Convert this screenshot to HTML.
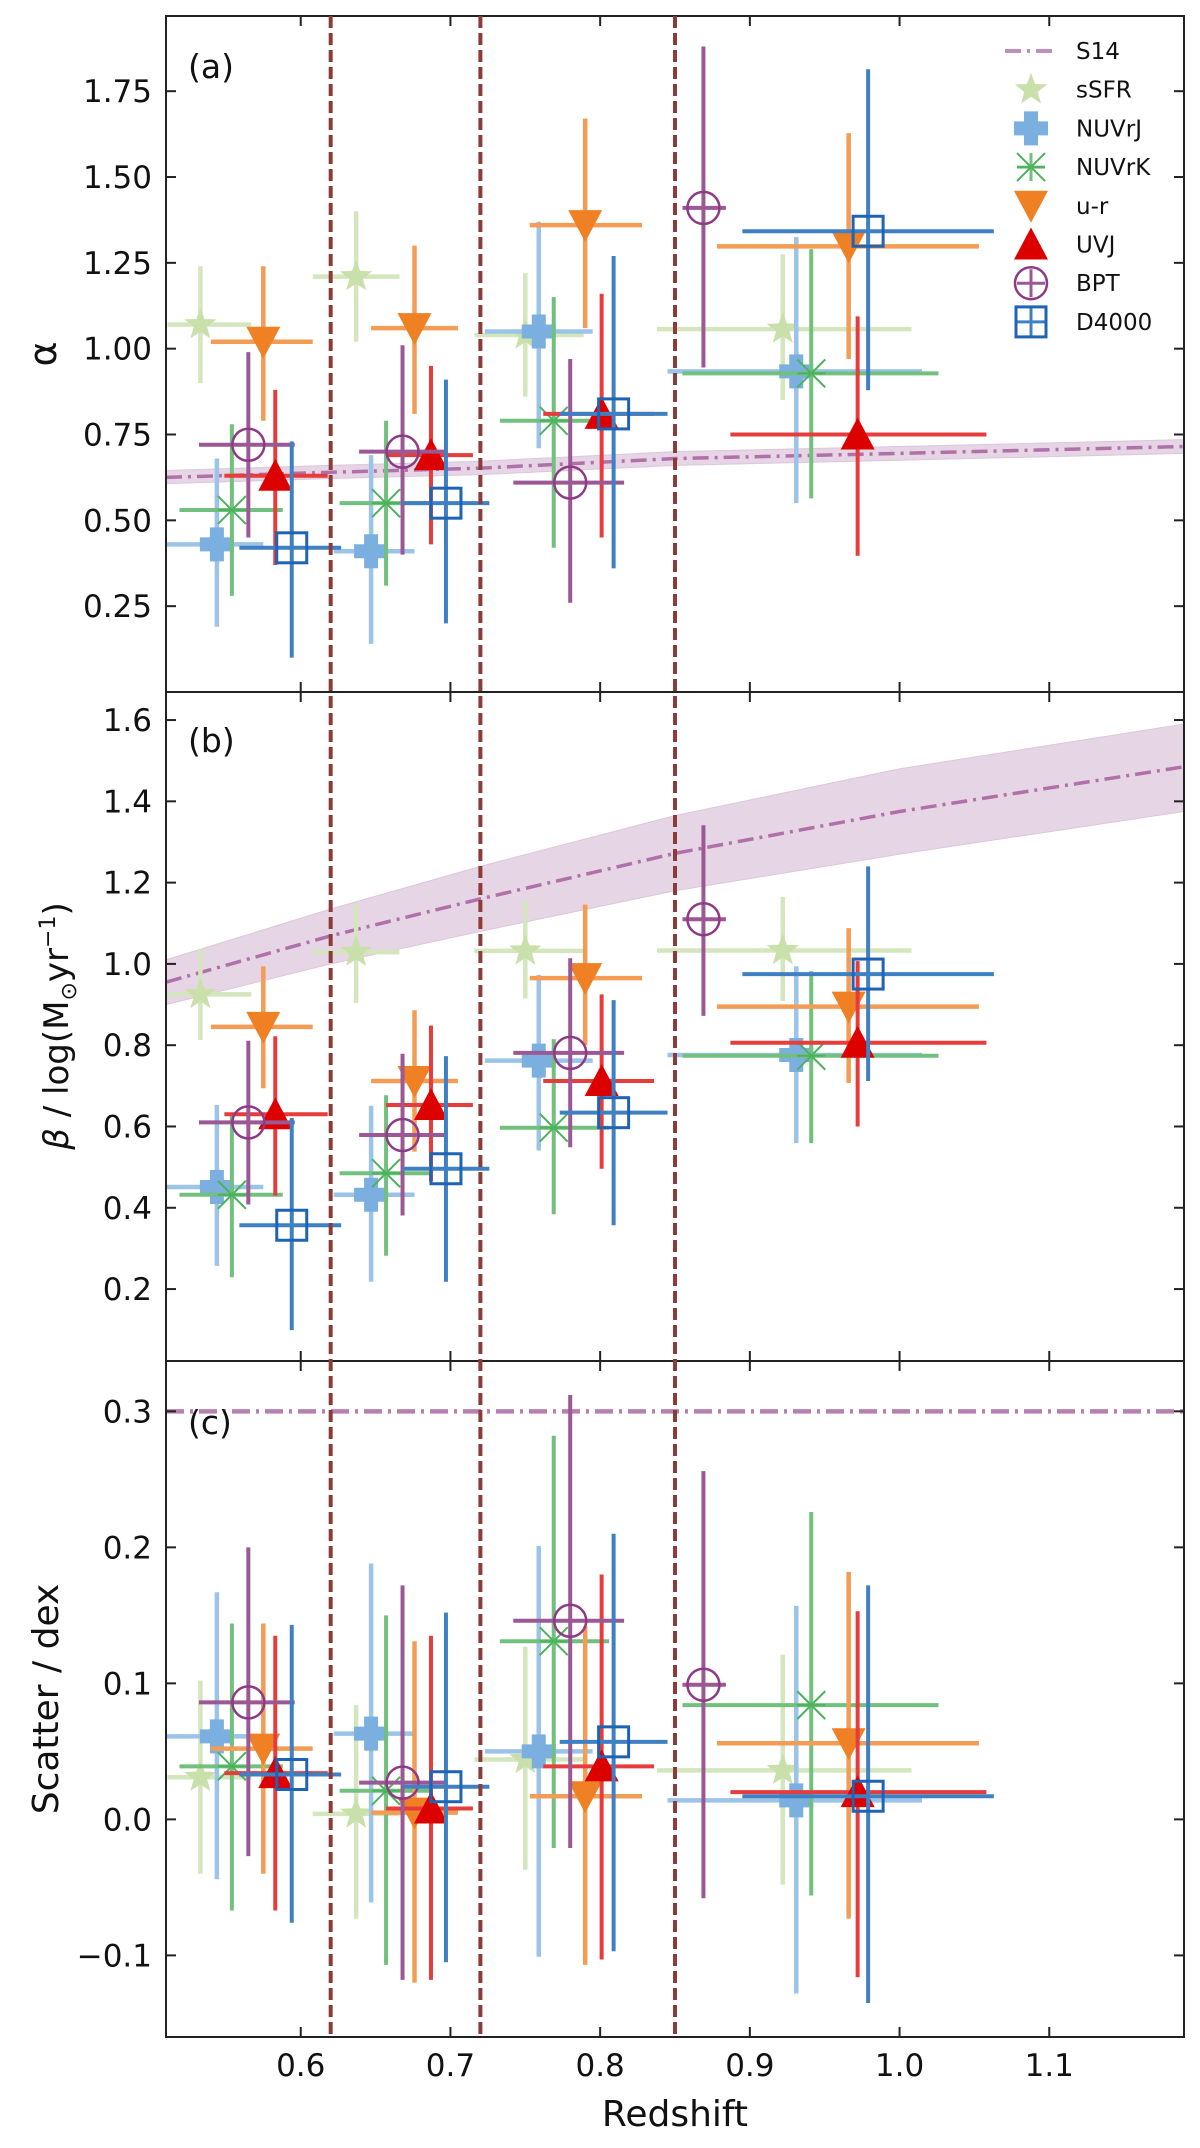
<!DOCTYPE html>
<html><head><meta charset="utf-8">
<style>
html,body{margin:0;padding:0;background:#fff;}
svg{display:block;font-family:"DejaVu Sans","Liberation Sans",sans-serif;}
</style></head>
<body>
<svg id="fig" width="1200" height="2148" viewBox="0 0 1200 2148" xmlns="http://www.w3.org/2000/svg"></svg>
<script>
// ---------- data ----------
const seriesNames = ["sSFR","NUVrJ","NUVrK","u-r","UVJ","BPT","D4000"];
const xSSFR = [0.533,0.637,0.750,0.922], xloSSFR=[0.511,0.608,0.716,0.838], xhiSSFR=[0.567,0.666,0.789,1.008];
const xNUVrJ = [0.544,0.647,0.759,0.931], xloNUVrJ=[0.510,0.622,0.723,0.845], xhiNUVrJ=[0.575,0.676,0.795,1.015];
const xNUVrK = [0.554,0.657,0.769,0.941], xloNUVrK=[0.519,0.626,0.733,0.855], xhiNUVrK=[0.588,0.686,0.806,1.026];
const xUR = [0.575,0.676,0.790,0.966], xloUR=[0.540,0.647,0.753,0.878], xhiUR=[0.608,0.705,0.828,1.053];
const xUVJ = [0.583,0.687,0.801,0.972], xloUVJ=[0.549,0.657,0.762,0.887], xhiUVJ=[0.618,0.715,0.836,1.058];
const xBPT = [0.565,0.668,0.780,0.869], xloBPT=[0.532,0.639,0.742,0.855], xhiBPT=[0.596,0.698,0.816,0.884];
const xD4000 = [0.594,0.697,0.809,0.979], xloD4000=[0.559,0.668,0.773,0.895], xhiD4000=[0.627,0.726,0.845,1.063];

// panel (a) alpha
const aSSFR=[1.07,1.21,1.04,1.057], aSSFRlo=[0.90,1.02,0.86,0.85], aSSFRhi=[1.24,1.40,1.22,1.275];
const aNUVrJ=[0.43,0.41,1.05,0.934], aNUVrJlo=[0.19,0.14,0.71,0.55], aNUVrJhi=[0.68,0.69,1.37,1.325];
const aNUVrK=[0.53,0.55,0.79,0.928], aNUVrKlo=[0.28,0.31,0.42,0.564], aNUVrKhi=[0.78,0.79,1.15,1.29];
const aUR=[1.02,1.06,1.36,1.298], aURlo=[0.79,0.81,1.06,0.97], aURhi=[1.24,1.30,1.67,1.628];
const aUVJ=[0.63,0.69,0.81,0.75], aUVJlo=[0.37,0.43,0.45,0.397], aUVJhi=[0.88,0.95,1.16,1.094];
const aBPT=[0.72,0.70,0.61,1.41], aBPTlo=[0.45,0.40,0.26,0.945], aBPThi=[0.99,1.01,0.97,1.88];
const aD4000=[0.42,0.55,0.81,1.342], aD4000lo=[0.10,0.20,0.36,0.879], aD4000hi=[0.73,0.91,1.27,1.814];

// panel (b) beta
const bSSFR=[0.925,1.029,1.032,1.033], bSSFRlo=[0.813,0.904,0.915,0.909], bSSFRhi=[1.037,1.149,1.156,1.165];
const bNUVrJ=[0.451,0.432,0.762,0.776], bNUVrJlo=[0.257,0.218,0.541,0.559], bNUVrJhi=[0.653,0.651,0.973,0.994];
const bNUVrK=[0.432,0.485,0.597,0.774], bNUVrKlo=[0.229,0.282,0.384,0.559], bNUVrKhi=[0.632,0.677,0.815,0.982];
const bUR=[0.845,0.712,0.965,0.895], bURlo=[0.694,0.538,0.80,0.707], bURhi=[0.994,0.886,1.146,1.088];
const bUVJ=[0.63,0.653,0.712,0.806], bUVJlo=[0.43,0.465,0.496,0.60], bUVJhi=[0.822,0.848,0.925,1.007];
const bBPT=[0.61,0.579,0.781,1.11], bBPTlo=[0.408,0.381,0.549,0.872], bBPThi=[0.811,0.779,1.014,1.341];
const bD4000=[0.357,0.496,0.634,0.975], bD4000lo=[0.099,0.218,0.357,0.712], bD4000hi=[0.621,0.773,0.911,1.24];

// panel (c) scatter
const cSSFR=[0.031,0.004,0.044,0.036], cSSFRlo=[-0.04,-0.073,-0.037,-0.048], cSSFRhi=[0.102,0.084,0.127,0.121];
const cNUVrJ=[0.061,0.063,0.05,0.014], cNUVrJlo=[-0.044,-0.061,-0.101,-0.128], cNUVrJhi=[0.167,0.188,0.201,0.157];
const cNUVrK=[0.039,0.021,0.131,0.084], cNUVrKlo=[-0.067,-0.107,-0.021,-0.056], cNUVrKhi=[0.144,0.15,0.282,0.226];
const cUR=[0.052,0.005,0.017,0.056], cURlo=[-0.04,-0.12,-0.107,-0.073], cURhi=[0.144,0.131,0.142,0.182];
const cUVJ=[0.034,0.008,0.039,0.02], cUVJlo=[-0.067,-0.118,-0.103,-0.116], cUVJhi=[0.135,0.135,0.18,0.153];
const cBPT=[0.086,0.027,0.146,0.099], cBPTlo=[-0.027,-0.118,-0.021,-0.058], cBPThi=[0.2,0.172,0.312,0.256];
const cD4000=[0.033,0.024,0.057,0.017], cD4000lo=[-0.076,-0.105,-0.097,-0.135], cD4000hi=[0.143,0.152,0.21,0.172];

// S14 relation
const s14z=[0.51,0.62,0.72,0.85,1.0,1.19];
const s14Alpha=[0.625,0.64,0.652,0.68,0.695,0.715], s14AlphaLo=[0.607,0.622,0.633,0.66,0.675,0.695], s14AlphaHi=[0.645,0.66,0.672,0.70,0.715,0.735];
const s14Beta=[0.955,1.069,1.16,1.272,1.375,1.485], s14BetaLo=[0.90,1.00,1.08,1.18,1.27,1.375], s14BetaHi=[1.01,1.135,1.24,1.365,1.48,1.59];
const s14Scatter=[0.3,0.3];
const s14ScatterZ=[0.51,1.19];

const binEdges=[0.62,0.72,0.85];
const xTicks=[0.6,0.7,0.8,0.9,1.0,1.1];
const xTickLabels=["0.6","0.7","0.8","0.9","1.0","1.1"];
const aTicks=[0.25,0.5,0.75,1.0,1.25,1.5,1.75], aTickLabels=["0.25","0.50","0.75","1.00","1.25","1.50","1.75"];
const bTicks=[0.2,0.4,0.6,0.8,1.0,1.2,1.4,1.6], bTickLabels=["0.2","0.4","0.6","0.8","1.0","1.2","1.4","1.6"];
const cTicks=[-0.1,0.0,0.1,0.2,0.3], cTickLabels=["\u22120.1","0.0","0.1","0.2","0.3"];

// ---------- drawing ----------
const NS="http://www.w3.org/2000/svg";
const svg=document.getElementById('fig');
function el(tag,attrs,parent){const e=document.createElementNS(NS,tag);for(const k in attrs)e.setAttribute(k,attrs[k]);(parent||svg).appendChild(e);return e;}
const L=166,R=1184;
const XMIN=0.51,XMAX=1.19;
function sx(v){return L+(v-XMIN)/(XMAX-XMIN)*(R-L);}
const panels=[
 {key:'a',top:16,bot:692,ymin:0.0,ymax:1.969},
 {key:'b',top:692,bot:1361,ymin:0.023,ymax:1.669},
 {key:'c',top:1361,bot:2037,ymin:-0.16,ymax:0.337}
];
panels.forEach(p=>{p.sy=v=>p.bot-(v-p.ymin)/(p.ymax-p.ymin)*(p.bot-p.top);});

const styles={
 "sSFR":{m:"#c9e0ab",e:"#d3e6be"},
 "NUVrJ":{m:"#7aafe0",e:"#9cc3e8"},
 "NUVrK":{m:"#4cb35c",e:"#72c07e"},
 "u-r":{m:"#f08024",e:"#f39c55"},
 "UVJ":{m:"#dd0000",e:"#e63c3c"},
 "BPT":{m:"#8e3a86",e:"#9c5895"},
 "D4000":{m:"#1f63b5",e:"#3f80c2"}
};
const xs={"sSFR":[xSSFR,xloSSFR,xhiSSFR],"NUVrJ":[xNUVrJ,xloNUVrJ,xhiNUVrJ],"NUVrK":[xNUVrK,xloNUVrK,xhiNUVrK],"u-r":[xUR,xloUR,xhiUR],"UVJ":[xUVJ,xloUVJ,xhiUVJ],"BPT":[xBPT,xloBPT,xhiBPT],"D4000":[xD4000,xloD4000,xhiD4000]};
const ys={
 a:{"sSFR":[aSSFR,aSSFRlo,aSSFRhi],"NUVrJ":[aNUVrJ,aNUVrJlo,aNUVrJhi],"NUVrK":[aNUVrK,aNUVrKlo,aNUVrKhi],"u-r":[aUR,aURlo,aURhi],"UVJ":[aUVJ,aUVJlo,aUVJhi],"BPT":[aBPT,aBPTlo,aBPThi],"D4000":[aD4000,aD4000lo,aD4000hi]},
 b:{"sSFR":[bSSFR,bSSFRlo,bSSFRhi],"NUVrJ":[bNUVrJ,bNUVrJlo,bNUVrJhi],"NUVrK":[bNUVrK,bNUVrKlo,bNUVrKhi],"u-r":[bUR,bURlo,bURhi],"UVJ":[bUVJ,bUVJlo,bUVJhi],"BPT":[bBPT,bBPTlo,bBPThi],"D4000":[bD4000,bD4000lo,bD4000hi]},
 c:{"sSFR":[cSSFR,cSSFRlo,cSSFRhi],"NUVrJ":[cNUVrJ,cNUVrJlo,cNUVrJhi],"NUVrK":[cNUVrK,cNUVrKlo,cNUVrKhi],"u-r":[cUR,cURlo,cURhi],"UVJ":[cUVJ,cUVJlo,cUVJhi],"BPT":[cBPT,cBPTlo,cBPThi],"D4000":[cD4000,cD4000lo,cD4000hi]}
};

function marker(name,cx,cy,g){
 const c=styles[name].m;let m;
 if(name==="sSFR"){
  let pts=[];for(let i=0;i<10;i++){const r=i%2?7:17;const a=-Math.PI/2+i*Math.PI/5;pts.push((cx+r*Math.cos(a)).toFixed(1)+","+(cy+r*Math.sin(a)).toFixed(1));}
  m=el('polygon',{points:pts.join(' '),fill:c},g);
 }else if(name==="NUVrJ"){
  const a=17,w=7;
  m=el('polygon',{points:`${cx-w},${cy-a} ${cx+w},${cy-a} ${cx+w},${cy-w} ${cx+a},${cy-w} ${cx+a},${cy+w} ${cx+w},${cy+w} ${cx+w},${cy+a} ${cx-w},${cy+a} ${cx-w},${cy+w} ${cx-a},${cy+w} ${cx-a},${cy-w} ${cx-w},${cy-w}`,fill:c},g);
 }else if(name==="NUVrK"){
  m=el('path',{d:`M${cx-14},${cy-14}L${cx+14},${cy+14}M${cx-14},${cy+14}L${cx+14},${cy-14}M${cx-14},${cy}L${cx+14},${cy}`,stroke:c,'stroke-width':2,fill:'none'},g);
 }else if(name==="u-r"){
  m=el('polygon',{points:`${cx-17},${cy-15} ${cx+17},${cy-15} ${cx},${cy+17}`,fill:c},g);
 }else if(name==="UVJ"){
  m=el('polygon',{points:`${cx-17},${cy+15} ${cx+17},${cy+15} ${cx},${cy-17}`,fill:c},g);
 }else if(name==="BPT"){
  m=el('circle',{cx:cx,cy:cy,r:16,fill:'none',stroke:c,'stroke-width':2.5},g);
 }else{
  m=el('rect',{x:cx-15,y:cy-15,width:30,height:30,fill:'none',stroke:c,'stroke-width':3},g);
 }
 return m;
}

const defs=el('defs',{});
panels.forEach(p=>{const cp=el('clipPath',{id:'clip-'+p.key},defs);el('rect',{x:L,y:p.top,width:R-L,height:p.bot-p.top},cp);});

panels.forEach(p=>{
 const g=el('g',{'clip-path':`url(#clip-${p.key})`});
 
 
 if(p.key==='c'){
  const ln=el('line',{x1:sx(s14ScatterZ[0]),x2:sx(s14ScatterZ[1]),y1:p.sy(s14Scatter[0]),y2:p.sy(s14Scatter[1]),stroke:'#b680b0','stroke-width':4.5,'stroke-dasharray':'18,6,3,6'},g);
  
  
 }else{
  const mid=p.key==='a'?s14Alpha:s14Beta, lo=p.key==='a'?s14AlphaLo:s14BetaLo, hi=p.key==='a'?s14AlphaHi:s14BetaHi;
  let d='';s14z.forEach((z,i)=>{d+=(i?'L':'M')+sx(z)+','+p.sy(hi[i]);});
  for(let i=s14z.length-1;i>=0;i--)d+='L'+sx(s14z[i])+','+p.sy(lo[i]);
  const band=el('path',{d:d+'Z',fill:'#e6d5e5',stroke:'#dcc6db','stroke-width':1},g);
  
  
  const line=el('polyline',{points:s14z.map((z,i)=>sx(z)+','+p.sy(mid[i])).join(' '),fill:'none',stroke:'#b070a8','stroke-width':3.5,'stroke-dasharray':'16,6,3,6'},g);
  
  
 }
 seriesNames.forEach(n=>{
  const sg=el('g',{},g);
  
  
  const [X,XL,XH]=xs[n];const [Y,YL,YH]=ys[p.key][n];
  X.forEach((x,i)=>{
   const e=styles[n].e;const w=(n==='NUVrK'||n==='UVJ'||n==='BPT'||n==='D4000')?4:4.5;
   el('line',{x1:sx(XL[i]),x2:sx(XH[i]),y1:p.sy(Y[i]),y2:p.sy(Y[i]),stroke:e,'stroke-width':w},sg);
   el('line',{x1:sx(x),x2:sx(x),y1:p.sy(YL[i]),y2:p.sy(YH[i]),stroke:e,'stroke-width':w},sg);
   const mk=marker(n,sx(x),p.sy(Y[i]),sg);
   
   
  });
 });
 const fr=el('rect',{x:L,y:p.top,width:R-L,height:p.bot-p.top,fill:'none',stroke:'#222','stroke-width':2});
 
 
 xTicks.forEach((t,i)=>{
  const x=sx(t);
  el('line',{x1:x,x2:x,y1:p.bot,y2:p.bot-10,stroke:'#222','stroke-width':2});
  el('line',{x1:x,x2:x,y1:p.top,y2:p.top+10,stroke:'#222','stroke-width':2});
  if(p.key==='c'){
   const tx=el('text',{x:x,y:2076,'font-size':31,'text-anchor':'middle',fill:'#111'});
   tx.textContent=xTickLabels[i];
   
   
  }
 });
 const tk=p.key==='a'?aTicks:p.key==='b'?bTicks:cTicks;
 const tl=p.key==='a'?aTickLabels:p.key==='b'?bTickLabels:cTickLabels;
 tk.forEach((t,i)=>{
  const y=p.sy(t);
  el('line',{x1:L,x2:L+10,y1:y,y2:y,stroke:'#222','stroke-width':2});
  el('line',{x1:R,x2:R-10,y1:y,y2:y,stroke:'#222','stroke-width':2});
  const tx=el('text',{x:152,y:y+11,'font-size':31,'text-anchor':'end',fill:'#111'});
  tx.textContent=tl[i];
  
  
 });
 const lab=el('text',{x:188,y:p.key==='a'?78:p.key==='b'?752:1434,'font-size':33,fill:'#111'});
 lab.textContent='('+p.key+')';
 
 
});

binEdges.forEach(z=>{
 const v=el('line',{x1:sx(z),x2:sx(z),y1:16,y2:2037,stroke:'#8c3c38','stroke-width':4,'stroke-dasharray':'12,5'});
 
 
});

let t;
t=el('text',{x:0,y:0,'font-size':38,'text-anchor':'middle',fill:'#111',transform:'translate(56,354) rotate(-90)'});
t.textContent='\u03b1';


t=el('text',{x:0,y:0,'font-size':34,'text-anchor':'middle',fill:'#111',transform:'translate(68,1026) rotate(-90)'});
t.innerHTML='<tspan font-style="italic">\u03b2</tspan> / log(M<tspan font-size="22" dy="8">\u2299</tspan><tspan dy="-8">yr</tspan><tspan font-size="22" dy="-13">\u22121</tspan><tspan dy="13">)</tspan>';


t=el('text',{x:0,y:0,'font-size':36,'text-anchor':'middle',fill:'#111',transform:'translate(58,1699) rotate(-90)'});
t.textContent='Scatter / dex';


t=el('text',{x:675,y:2126,'font-size':36,'text-anchor':'middle',fill:'#111'});
t.textContent='Redshift';



const lg=el('g',{});


const legY0=51, legDy=38.7, legMx=1031, legTx=1076;
el('line',{x1:1005,x2:1055,y1:legY0,y2:legY0,stroke:'#c090bc','stroke-width':4,'stroke-dasharray':'16,6,3,6'},lg);
const s14t=el('text',{x:legTx,y:legY0+8,'font-size':23,fill:'#111'},lg);s14t.textContent='S14';


seriesNames.forEach((n,i)=>{
 const y=legY0+(i+1)*legDy;
 if(n==='NUVrK'||n==='BPT'||n==='D4000'){
  el('line',{x1:legMx-14,x2:legMx+14,y1:y,y2:y,stroke:styles[n].e,'stroke-width':3},lg);
  el('line',{x1:legMx,x2:legMx,y1:y-14,y2:y+14,stroke:styles[n].e,'stroke-width':3},lg);
 }
 marker(n,legMx,y,lg);
 const tx=el('text',{x:legTx,y:y+8,'font-size':23,fill:'#111'},lg);
 tx.textContent=n;
 
 
});
</script>
</body></html>
